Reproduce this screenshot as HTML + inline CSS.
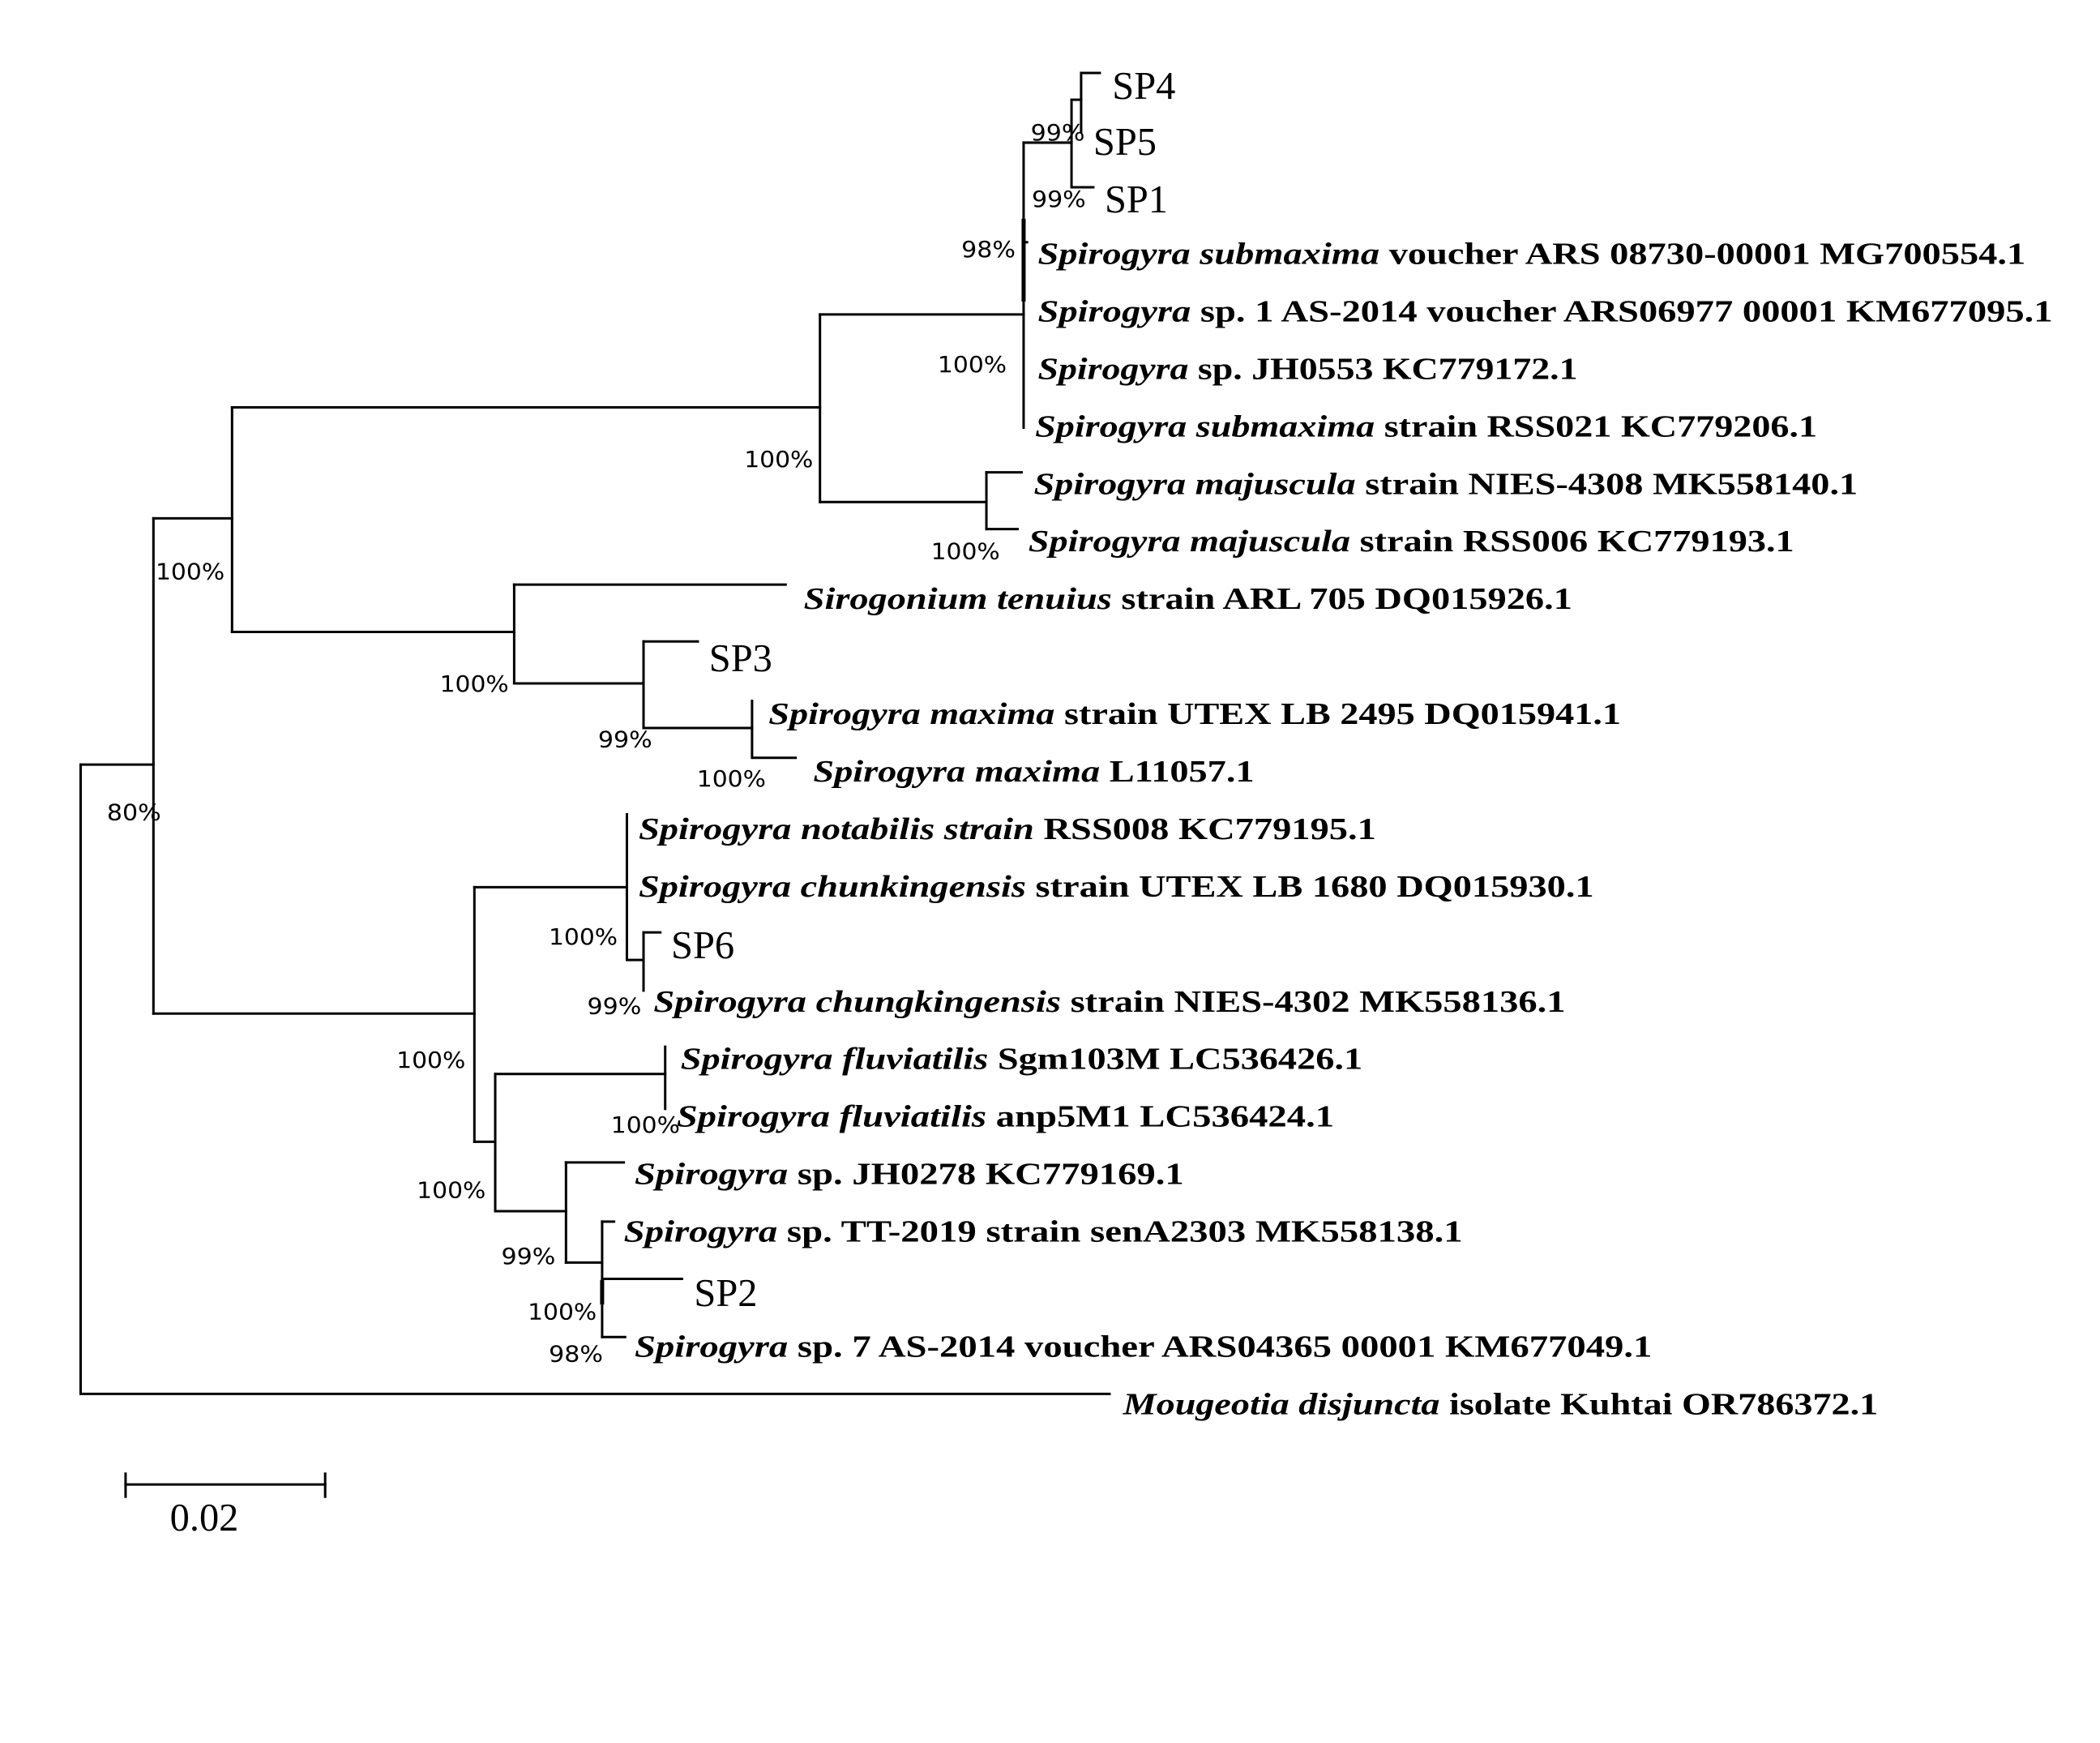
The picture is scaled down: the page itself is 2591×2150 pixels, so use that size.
<!DOCTYPE html>
<html><head><meta charset="utf-8"><style>
html,body{margin:0;padding:0;background:#fff;}
svg{display:block;}
.t{font-family:"Liberation Serif",serif;font-size:23px;font-weight:bold;fill:#000;}
.i{font-style:italic;}
.s{font-family:"Liberation Serif",serif;font-size:29px;fill:#000;}
.p{font-family:"DejaVu Sans","Liberation Sans",sans-serif;font-size:16.5px;fill:#000;}
</style></head><body>
<svg width="2591" height="2150" viewBox="0 0 1552 1288" preserveAspectRatio="none" xmlns="http://www.w3.org/2000/svg">
<g stroke="#000" stroke-width="1.8" fill="none" stroke-linecap="square">
<path d="M59.6 565 V1030 H820"/>
<path d="M59.6 565 H113.4"/>
<path d="M113.4 383 V749"/>
<path d="M113.4 383 H171.5"/>
<path d="M171.5 301 V467"/>
<path d="M171.5 301 H606"/>
<path d="M606 232.4 V371"/>
<path d="M606 232.4 H756.5"/>
<path d="M756.5 105.4 V316"/>
<path d="M756.5 105.4 H791.9"/>
<path d="M791.9 73.7 V138.4 H808"/>
<path d="M791.9 73.7 H799"/>
<path d="M799 97.6 V53.9 H812.8"/>
<path d="M756.5 179 H759"/>
<path d="M606 371 H729"/>
<path d="M729 349 V391"/>
<path d="M729 349 H755"/>
<path d="M729 391 H752"/>
<path d="M171.5 467 H380"/>
<path d="M380 432 V505"/>
<path d="M380 432 H580.6"/>
<path d="M380 505 H475.6"/>
<path d="M475.6 474 V538"/>
<path d="M475.6 474 H515.7"/>
<path d="M475.6 538 H555.8"/>
<path d="M555.8 518 V560 H588"/>
<path d="M113.4 749 H350.6"/>
<path d="M350.6 655.6 V843.7"/>
<path d="M350.6 655.6 H463.3"/>
<path d="M463.3 601.8 V709.4 H475.6"/>
<path d="M475.6 689 V732"/>
<path d="M475.6 689 H488"/>
<path d="M350.6 843.7 H366"/>
<path d="M366 793.6 V895"/>
<path d="M366 793.6 H491.6"/>
<path d="M491.6 773.5 V819.4"/>
<path d="M366 895 H418.3"/>
<path d="M418.3 859 V933"/>
<path d="M418.3 859 H461"/>
<path d="M418.3 933 H445"/>
<path d="M445 902.7 V988"/>
<path d="M445 902.7 H453.8"/>
<path d="M445 945 H504"/>
<path d="M445 988 H462"/>
<path d="M92.8 1097 H240.3"/>
<path d="M92.8 1089 V1106"/>
<path d="M240.3 1089 V1106"/>
</g>
<g stroke="#000" stroke-width="3" fill="none">
<path d="M756.5 161.7 V222.8"/>
<path d="M445 946 V964"/>
</g>
<text class="s" x="822" y="73">SP4</text>
<text class="s" x="808" y="114.4">SP5</text>
<text class="s" x="816.4" y="157">SP1</text>
<text class="s" x="524" y="496">SP3</text>
<text class="s" x="496" y="708">SP6</text>
<text class="s" x="513" y="965">SP2</text>
<text class="s" x="125.6" y="1131">0.02</text>
<text class="t" x="767" y="195" textLength="730" lengthAdjust="spacingAndGlyphs"><tspan class="i">Spirogyra submaxima</tspan> voucher ARS 08730-00001 MG700554.1</text>
<text class="t" x="767" y="237.5" textLength="750" lengthAdjust="spacingAndGlyphs"><tspan class="i">Spirogyra</tspan> sp. 1 AS-2014 voucher ARS06977 00001 KM677095.1</text>
<text class="t" x="767" y="280" textLength="399" lengthAdjust="spacingAndGlyphs"><tspan class="i">Spirogyra</tspan> sp. JH0553 KC779172.1</text>
<text class="t" x="765" y="322.5" textLength="578" lengthAdjust="spacingAndGlyphs"><tspan class="i">Spirogyra submaxima</tspan> strain RSS021 KC779206.1</text>
<text class="t" x="764" y="365" textLength="609" lengthAdjust="spacingAndGlyphs"><tspan class="i">Spirogyra majuscula</tspan> strain NIES-4308 MK558140.1</text>
<text class="t" x="760" y="407.5" textLength="566" lengthAdjust="spacingAndGlyphs"><tspan class="i">Spirogyra majuscula</tspan> strain RSS006 KC779193.1</text>
<text class="t" x="594" y="450" textLength="568" lengthAdjust="spacingAndGlyphs"><tspan class="i">Sirogonium tenuius</tspan> strain ARL 705 DQ015926.1</text>
<text class="t" x="568" y="535" textLength="630" lengthAdjust="spacingAndGlyphs"><tspan class="i">Spirogyra maxima</tspan> strain UTEX LB 2495 DQ015941.1</text>
<text class="t" x="601" y="577.5" textLength="326" lengthAdjust="spacingAndGlyphs"><tspan class="i">Spirogyra maxima</tspan> L11057.1</text>
<text class="t" x="472" y="620" textLength="545" lengthAdjust="spacingAndGlyphs"><tspan class="i">Spirogyra notabilis strain</tspan> RSS008 KC779195.1</text>
<text class="t" x="472" y="662.5" textLength="706" lengthAdjust="spacingAndGlyphs"><tspan class="i">Spirogyra chunkingensis</tspan> strain UTEX LB 1680 DQ015930.1</text>
<text class="t" x="483" y="747.5" textLength="674" lengthAdjust="spacingAndGlyphs"><tspan class="i">Spirogyra chungkingensis</tspan> strain NIES-4302 MK558136.1</text>
<text class="t" x="503" y="790" textLength="504" lengthAdjust="spacingAndGlyphs"><tspan class="i">Spirogyra fluviatilis</tspan> Sgm103M LC536426.1</text>
<text class="t" x="500" y="832.5" textLength="486" lengthAdjust="spacingAndGlyphs"><tspan class="i">Spirogyra fluviatilis</tspan> anp5M1 LC536424.1</text>
<text class="t" x="469" y="875" textLength="406" lengthAdjust="spacingAndGlyphs"><tspan class="i">Spirogyra</tspan> sp. JH0278 KC779169.1</text>
<text class="t" x="461" y="917.5" textLength="620" lengthAdjust="spacingAndGlyphs"><tspan class="i">Spirogyra</tspan> sp. TT-2019 strain senA2303 MK558138.1</text>
<text class="t" x="469" y="1002.5" textLength="752" lengthAdjust="spacingAndGlyphs"><tspan class="i">Spirogyra</tspan> sp. 7 AS-2014 voucher ARS04365 00001 KM677049.1</text>
<text class="t" x="830" y="1045" textLength="558" lengthAdjust="spacingAndGlyphs"><tspan class="i">Mougeotia disjuncta</tspan> isolate Kuhtai OR786372.1</text>
<text class="p" x="761.7" y="103.6" textLength="40" lengthAdjust="spacingAndGlyphs">99%</text>
<text class="p" x="762.5" y="152.7" textLength="40" lengthAdjust="spacingAndGlyphs">99%</text>
<text class="p" x="710.5" y="190" textLength="40" lengthAdjust="spacingAndGlyphs">98%</text>
<text class="p" x="693" y="275" textLength="51" lengthAdjust="spacingAndGlyphs">100%</text>
<text class="p" x="550" y="345" textLength="51" lengthAdjust="spacingAndGlyphs">100%</text>
<text class="p" x="688" y="413" textLength="51" lengthAdjust="spacingAndGlyphs">100%</text>
<text class="p" x="115" y="428" textLength="51" lengthAdjust="spacingAndGlyphs">100%</text>
<text class="p" x="79" y="606" textLength="40" lengthAdjust="spacingAndGlyphs">80%</text>
<text class="p" x="325" y="511" textLength="51" lengthAdjust="spacingAndGlyphs">100%</text>
<text class="p" x="442" y="552" textLength="40" lengthAdjust="spacingAndGlyphs">99%</text>
<text class="p" x="515" y="581" textLength="51" lengthAdjust="spacingAndGlyphs">100%</text>
<text class="p" x="405.5" y="698" textLength="51" lengthAdjust="spacingAndGlyphs">100%</text>
<text class="p" x="434" y="749" textLength="40" lengthAdjust="spacingAndGlyphs">99%</text>
<text class="p" x="293" y="789" textLength="51" lengthAdjust="spacingAndGlyphs">100%</text>
<text class="p" x="451.5" y="837" textLength="51" lengthAdjust="spacingAndGlyphs">100%</text>
<text class="p" x="308" y="885" textLength="51" lengthAdjust="spacingAndGlyphs">100%</text>
<text class="p" x="370.5" y="934" textLength="40" lengthAdjust="spacingAndGlyphs">99%</text>
<text class="p" x="390" y="975" textLength="51" lengthAdjust="spacingAndGlyphs">100%</text>
<text class="p" x="405.6" y="1006" textLength="40" lengthAdjust="spacingAndGlyphs">98%</text>
</svg>
</body></html>
